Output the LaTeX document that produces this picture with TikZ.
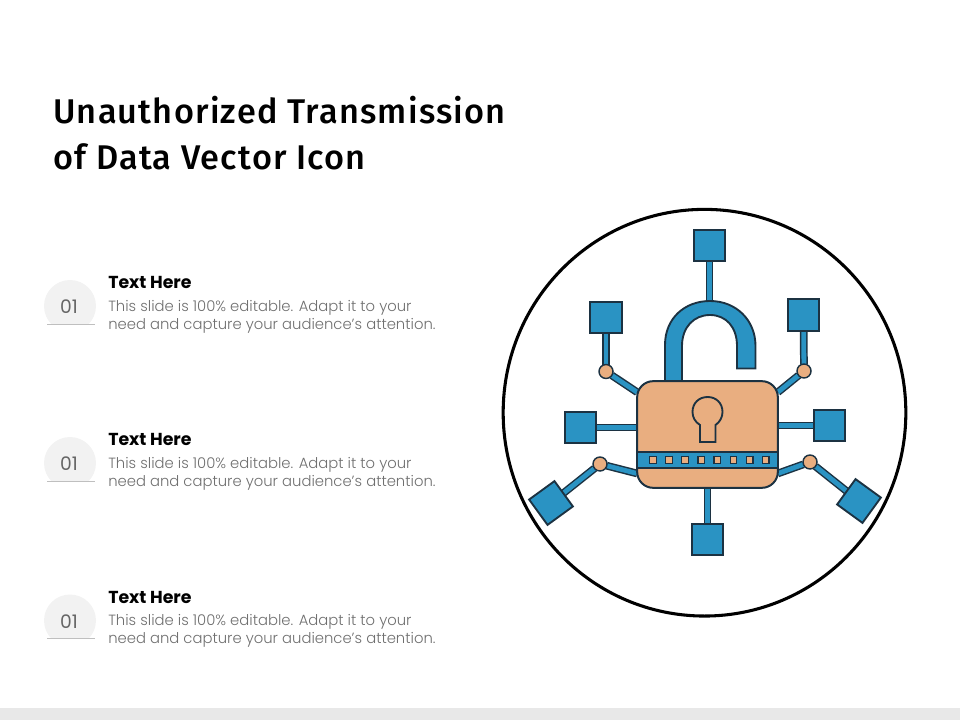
\documentclass[tikz,border=0pt]{standalone}
\usepackage{fontspec}
\usepackage{tikz}
\usetikzlibrary{positioning,calc,backgrounds,shapes.geometric}
\setmainfont{Poppins}
\newfontfamily\titlefont[LetterSpace=3.5]{Fira Sans Medium}
\newfontfamily\blurbfont{Poppins Light}
\definecolor{lockblue}{HTML}{2A93C3}
\definecolor{lockpeach}{HTML}{E9AE80}
\definecolor{lockdark}{HTML}{1C3242}
\definecolor{badgegray}{HTML}{F2F2F2}
\definecolor{bodygray}{HTML}{6F6F6F}
\tikzstyle{netbox}=[draw=lockdark,fill=lockblue,line width=1.4pt,minimum size=23.5pt,inner sep=0pt,outer sep=0pt]
\tikzstyle{joint}=[draw=lockdark,fill=lockpeach,line width=1.1pt,circle,minimum size=10.5pt,inner sep=0pt,outer sep=0pt]
\tikzstyle{stem}=[draw=lockdark,double=lockblue,line width=1.1pt,double distance=3.6pt]
\tikzstyle{dot}=[draw=lockdark,fill=lockpeach,line width=.9pt,minimum size=5pt,inner sep=0pt,outer sep=0pt]
\tikzstyle{badge}=[circle,fill=badgegray,minimum size=39pt,inner sep=0pt]
\tikzstyle{head}=[anchor=west,inner sep=0pt,font=\fontsize{13}{15}\selectfont\bfseries,text=black]
\tikzstyle{blurb}=[anchor=west,inner sep=0pt,font=\blurbfont\fontsize{11.1}{13.5}\selectfont\color{bodygray}]
\begin{document}
\begin{tikzpicture}[x=.75pt,y=-.75pt]
    \useasboundingbox (0,0) rectangle (960,720);
    \fill[black!9] (0,708) rectangle (960,720);
    \node (title1) [anchor=west,inner sep=0pt,font=\titlefont\fontsize{25.7}{30}\selectfont] at (53,110.5) {Unauthorized Transmission};
    \node (title2) [anchor=west,inner sep=0pt,font=\titlefont\fontsize{25.7}{30}\selectfont] at (53,156.5) {of Data Vector Icon};
    \foreach \i/\dy in {1/0,2/157,3/314.5} {
      \begin{scope}
        \clip (40,270+\dy) rectangle (100,324+\dy);
        \node (badge\i) [badge] at (70,306+\dy) {};
      \end{scope}
      \draw[black!25,line width=.6pt] (47,324+\dy) -- (95,324+\dy);
      \node (num\i) [text=black!60,font=\fontsize{14}{16}\selectfont] at (69,307+\dy) {01};
      \node (head\i) [head] at (108,282.5+\dy) {Text Here};
      \node (lineA\i) [blurb] at (108,307.5+\dy) {This slide is 100\% editable. Adapt it to your};
      \node (lineB\i) [blurb] at (108,325.5+\dy) {need and capture your audience’s attention.};
    }
    \node (ring) [draw=black,line width=2.3pt,ellipse,minimum width=302pt,minimum height=305pt,inner sep=0pt] at (704.5,412.7) {};
    \draw[lockdark,fill=lockblue,line width=1.4pt] (665,381) -- (665,345)
      .. controls (665,318) and (685,301) .. (710,301)
      .. controls (736,301) and (755.5,320) .. (755.5,346) -- (755.5,368.5) -- (737,368.5) -- (737,346)
      .. controls (737,327) and (726,315) .. (710,315)
      .. controls (694,315) and (682,327) .. (682,346) -- (682,381) -- cycle;
    \coordinate (arch) at (709.5,302);
    \node (body) [draw=lockdark,fill=lockpeach,line width=1.5pt,rounded corners=12pt,minimum width=105.5pt,minimum height=80pt,inner sep=0pt,outer sep=0pt] at (707.5,434.5) {};
    \node (band) [draw=lockdark,fill=lockblue,line width=1.3pt,minimum width=105.5pt,minimum height=12pt,inner sep=0pt,outer sep=0pt] at (707.5,460) {};
    \foreach \i in {0,...,7} {
      \node (dot\i) [dot] at (653+16.1*\i,460) {};
    }
    \draw[lockdark,fill=lockpeach,line width=1.4pt] (700,442) -- (700,425)
      .. controls (695,422) and (692.5,417) .. (692.5,412)
      .. controls (692.5,403) and (699,397) .. (707.7,397)
      .. controls (716,397) and (722.5,403) .. (722.5,412)
      .. controls (722.5,417) and (720,422) .. (715.5,425) -- (715.5,442) -- cycle;
    \node (topbox) [netbox] at (709.5,245.5) {};
    \node (ulbox) [netbox] at (606,317.5) {};
    \node (urbox) [netbox] at (803.5,315) {};
    \node (leftbox) [netbox] at (580.5,427.5) {};
    \node (rightbox) [netbox] at (829.5,425.5) {};
    \node (downbox) [netbox] at (707.5,539.5) {};
    \node (dlbox) [netbox,rotate=36] at (551,503) {};
    \node (drbox) [netbox,rotate=-36] at (859,501) {};
    \node (uljoint) [joint] at (606,371.5) {};
    \node (urjoint) [joint] at (804,371) {};
    \node (dljoint) [joint] at (600,464) {};
    \node (drjoint) [joint] at (810,462) {};
    \begin{pgfonlayer}{background}
      \draw[stem] (topbox) -- (arch);
      \draw[stem] (ulbox) -- (uljoint);
      \draw[stem] (uljoint) -- (body.149);
      \draw[stem] (urbox) -- (urjoint);
      \draw[stem] (urjoint) -- (body.31);
      \draw[stem] (leftbox) -- (leftbox -| body.west);
      \draw[stem] (rightbox) -- (rightbox -| body.east);
      \draw[stem] (downbox.north -| body.south) -- (body.south);
      \draw[stem] (dlbox) -- (dljoint);
      \draw[stem] (dljoint) -- (body.209);
      \draw[stem] (drbox) -- (drjoint);
      \draw[stem] (drjoint) -- (body.-29);
    \end{pgfonlayer}
\end{tikzpicture}
\end{document}
